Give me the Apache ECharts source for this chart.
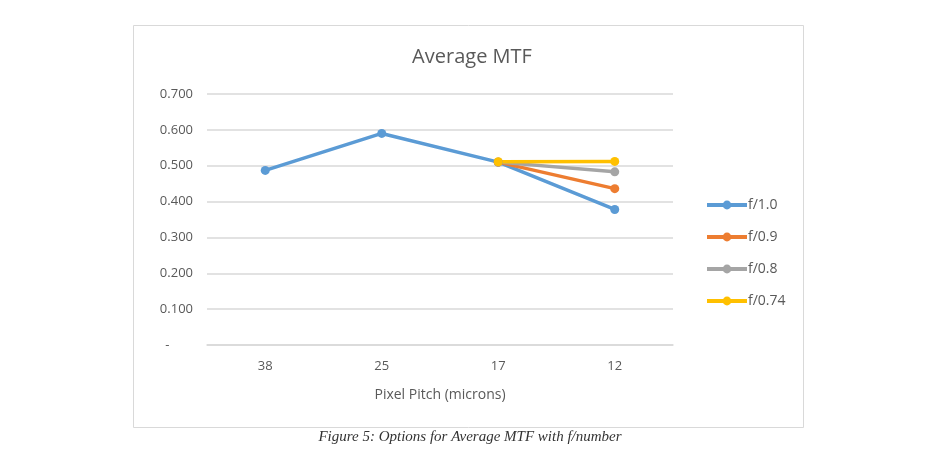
<!DOCTYPE html>
<html>
<head>
    <meta charset="utf-8">
    <title>Average MTF</title>
    <style>
        html, body { margin: 0; padding: 0; background: #fff; }
        #container { width: 940px; height: 460px; }
    </style>
</head>
<body>
<div id="container"></div>
<script src="https://cdn.jsdelivr.net/npm/echarts@6/dist/echarts.min.js"></script>
<script>
    // data
    var pitches = ['38', '25', '17', '12'];
    var seriesNames = ['f/1.0', 'f/0.9', 'f/0.8', 'f/0.74'];
    var f10 = [0.487, 0.590, 0.510, 0.378];
    var f09 = [null, null, 0.510, 0.436];
    var f08 = [null, null, 0.510, 0.483];
    var f074 = [null, null, 0.511, 0.512];
    var colors = ['#5b9bd5', '#ed7d31', '#a5a5a5', '#ffc000'];

    var font = '"Open Sans", "Noto Sans", sans-serif';
    var myChart = echarts.init(document.getElementById('container'));

    function lineSeries(name, data, color) {
        return {
            name: name,
            type: 'line',
            data: data,
            symbol: 'circle',
            symbolSize: 9,
            showSymbol: true,
            connectNulls: false,
            itemStyle: { color: color },
            lineStyle: { color: color, width: 3.5 },
            emphasis: { disabled: true },
            animation: false
        };
    }

    myChart.setOption({
        backgroundColor: '#fff',
        color: colors,
        textStyle: { fontFamily: font },
        title: {
            text: 'Average MTF',
            left: 467,
            top: 42,
            textAlign: 'center',
            textStyle: { color: '#595959', fontSize: 20, fontWeight: 'normal', fontFamily: font }
        },
        legend: {
            orient: 'vertical',
            left: 700,
            top: 193,
            itemWidth: 40,
            itemHeight: 11,
            itemGap: 18,
            data: seriesNames,
            lineStyle: { width: 4 },
            textStyle: { color: '#595959', fontSize: 14, padding: [0, 0, 0, -4] }
        },
        grid: { left: 207, right: 267, top: 94, bottom: 115 },
        xAxis: {
            type: 'category',
            data: pitches,
            boundaryGap: true,
            name: 'Pixel Pitch (microns)',
            nameLocation: 'middle',
            nameGap: 43,
            nameTextStyle: { color: '#595959', fontSize: 14 },
            axisLine: { lineStyle: { color: '#d9d9d9', width: 1.5 } },
            axisTick: { show: false },
            axisLabel: { color: '#595959', fontSize: 13, margin: 15 }
        },
        yAxis: {
            type: 'value',
            min: 0,
            max: 0.7,
            interval: 0.1,
            axisLine: { show: false },
            axisTick: { show: false },
            splitLine: { lineStyle: { color: '#d9d9d9', width: 1.5 } },
            axisLabel: {
                color: '#595959',
                fontSize: 13,
                margin: 14,
                formatter: function (v) {
                    return v === 0 ? '-       ' : v.toFixed(3);
                }
            }
        },
        graphic: [
            {
                type: 'rect',
                shape: { x: 133.5, y: 25.5, width: 670, height: 402 },
                style: { fill: 'none', stroke: '#d9d9d9', lineWidth: 1 },
                silent: true,
                z: -1
            },
            {
                type: 'text',
                left: 'center',
                top: 430,
                style: {
                    text: 'Figure 5: Options for Average MTF with f/number',
                    fill: '#333',
                    font: 'italic 15px "Liberation Serif", "DejaVu Serif", serif'
                },
                x: -3
            }
        ],
        series: [
            lineSeries(seriesNames[0], f10, colors[0]),
            lineSeries(seriesNames[1], f09, colors[1]),
            lineSeries(seriesNames[2], f08, colors[2]),
            lineSeries(seriesNames[3], f074, colors[3])
        ]
    });
</script>
</body>
</html>
